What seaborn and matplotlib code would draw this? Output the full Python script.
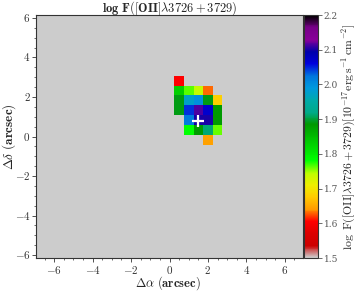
import numpy as np
import pandas as pd
import matplotlib
matplotlib.use("Agg")
import matplotlib.pyplot as plt
from matplotlib.ticker import FixedLocator, FixedFormatter
import seaborn as sns

# ---- data ----
x_centers = [0.5, 1.0, 1.5, 2.0, 2.5]                       # arcsec
y_centers = [2.83, 2.33, 1.83, 1.33, 0.83, 0.33, -0.17]     # arcsec, top to bottom
nan = np.nan
row_y283 = [1.605, nan, nan, nan, nan]
row_y233 = [1.83, 1.765, 1.74, 1.63, nan]
row_y183 = [1.89, 1.975, 2.00, 1.89, 1.68]
row_y133 = [1.89, 2.045, 2.115, 2.07, 1.885]
row_y083 = [nan, 2.02, 2.10, 2.10, 1.885]
row_y033 = [nan, 1.78, 1.885, 1.915, 1.76]
row_ym017 = [nan, nan, nan, 1.645, nan]
x_ticks = [-6, -4, -2, 0, 2, 4, 6]
y_ticks = [-6, -4, -2, 0, 2, 4, 6]
cbar_ticks = [1.5, 1.6, 1.7, 1.8, 1.9, 2.0, 2.1, 2.2]
cross_x, cross_y = 1.5, 0.8
x_range = (-6.95, 6.95)
y_range = (-6.15, 6.15)

rows = [row_y283, row_y233, row_y183, row_y133, row_y083, row_y033, row_ym017]
df = pd.DataFrame(rows, index=y_centers, columns=x_centers)

sns.set_theme(style="ticks")
plt.rcParams.update({
    "font.family": ["DejaVu Serif"],
    "mathtext.fontset": "cm",
    "axes.linewidth": 0.8,
})

W, H = 357, 291
fig = plt.figure(figsize=(W / 100, H / 100), dpi=100)
ax = fig.add_axes([0.1008, 0.1134, 0.748, 0.835])
cax = fig.add_axes([0.8505, 0.1134, 0.039, 0.835])
ax.set_facecolor("#cccccc")

sns.heatmap(df, cmap="nipy_spectral_r", vmin=1.5, vmax=2.2, ax=ax,
            cbar_ax=cax, cbar=True)

# mapping between arcsec and heatmap cell indices
dx = x_centers[1] - x_centers[0]
dy = y_centers[0] - y_centers[1]
x0 = x_centers[0] - dx / 2
y0 = y_centers[0] + dy / 2
def jx(x):
    return (np.asarray(x, float) - x0) / dx
def iy(y):
    return (y0 - np.asarray(y, float)) / dy

ax.set_xlim(jx(x_range[0]), jx(x_range[1]))
ax.set_ylim(iy(y_range[0]), iy(y_range[1]))
ax.set_facecolor("#cccccc")
for sp in ax.spines.values():
    sp.set_visible(True)
    sp.set_color("#333333")
    sp.set_linewidth(0.8)

def lab(v):
    return r"$%s$" % ("-%d" % abs(v) if v < 0 else "%d" % v)

ax.xaxis.set_major_locator(FixedLocator(list(jx(x_ticks))))
ax.xaxis.set_major_formatter(FixedFormatter([lab(v) for v in x_ticks]))
ax.yaxis.set_major_locator(FixedLocator(list(iy(y_ticks))))
ax.yaxis.set_major_formatter(FixedFormatter([lab(v) for v in y_ticks]))
xminor = np.arange(-6.5, 7.0, 0.5)
yminor = np.arange(-6.0, 6.01, 0.5)
ax.xaxis.set_minor_locator(FixedLocator(list(jx(xminor))))
ax.yaxis.set_minor_locator(FixedLocator(list(iy(yminor))))
ax.tick_params(which="major", direction="out", length=3, width=0.6,
               labelsize=8, colors="#333333", pad=1,
               bottom=True, left=True, top=False, right=False)
ax.tick_params(which="minor", direction="out", length=1.5, width=0.5,
               colors="#333333", bottom=True, left=True)
plt.setp(ax.get_xticklabels(), rotation=0)
plt.setp(ax.get_yticklabels(), rotation=0)

ax.plot([jx(cross_x)], [iy(cross_y)], marker="+", color="white",
        markersize=8.5, markeredgewidth=1.6)

ax.set_xlabel("")
ax.set_ylabel("")
fig.text(168 / W, 1 - 287 / H, r"$\mathbf{\Delta}\alpha\ \mathbf{(arcsec)}$",
         fontsize=9, ha="center", va="baseline")
fig.text(9 / W, 1 - 137 / H, r"$\mathbf{\Delta}\delta\ \mathbf{(arcsec)}$",
         fontsize=9.5, ha="center", va="center", rotation=90)
fig.text(170 / W, 1 - 12 / H, r"$\mathbf{log\ F([OII]}\lambda\mathbf{3726+3729)}$",
         fontsize=9, ha="center", va="baseline")

# colorbar
cb = ax.collections[0].colorbar
cb.set_ticks(cbar_ticks)
cb.set_ticklabels(["%.1f" % t for t in cbar_ticks])
cb.outline.set_visible(True)
cb.outline.set_linewidth(0.8)
cb.outline.set_edgecolor("#333333")
cax.tick_params(direction="out", length=3, width=0.6, labelsize=6.5,
                colors="#555555", pad=1.5)
cb.set_label(r"$\log\ \mathrm{F([OII]}\lambda3726+3729)[10^{-17}\mathrm{erg\,s^{-1}\,cm^{-2}}]$",
             fontsize=8.5, labelpad=2)

fig.savefig("out.png", dpi=100)
